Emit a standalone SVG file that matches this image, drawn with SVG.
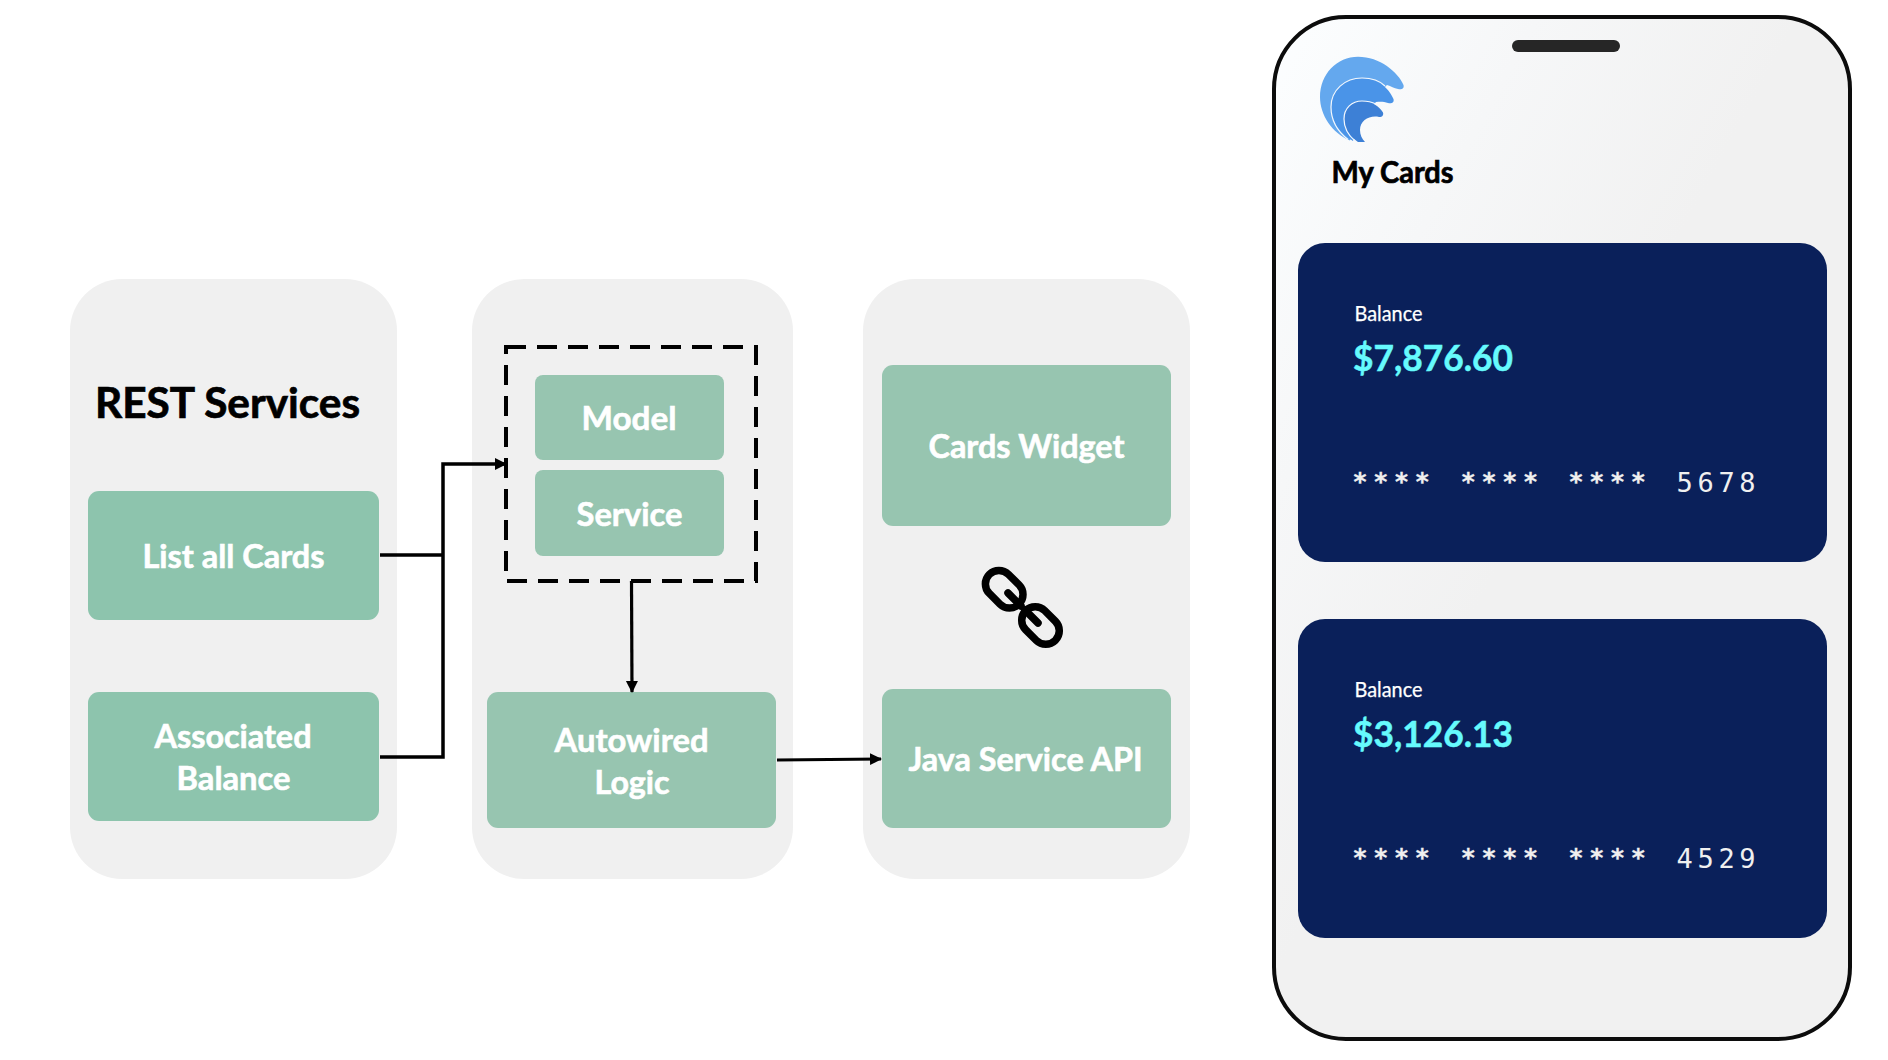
<svg xmlns="http://www.w3.org/2000/svg" width="1888" height="1060" viewBox="0 0 1888 1060">
<style>
text{font-family:Lato,"Open Sans","Liberation Sans",sans-serif}
.panel{fill:#f0f0f0}
.g1{fill:#8dc4ad}
.g2{fill:#97c5b0}
.t{font-weight:700;font-size:33px;fill:#fff;stroke:#fff;stroke-width:.6}
.h{font-weight:700;fill:#000;stroke:#000;stroke-width:.7}
.card{fill:#0a205a}
.bal{font-size:20.500px;fill:#fff;stroke:#fff;stroke-width:.25}
.amt{font-weight:700;font-size:37px;fill:#66fafd;stroke:#66fafd;stroke-width:.5}
.star{font-family:"DejaVu Sans Mono",monospace;font-size:25px;font-weight:700;letter-spacing:5.700px;fill:#f0f0f0;stroke:#f0f0f0;stroke-width:.3}
.num{font-family:"DejaVu Sans Mono",monospace;font-size:27px;letter-spacing:4.700px;fill:#f0f0f0}
.wire{fill:none;stroke:#000;stroke-width:3.500}
.wire2{fill:none;stroke:#000;stroke-width:3.200}
.arc{fill:none;stroke:#f4f8fd;stroke-width:1.200}
</style>
<defs>
<linearGradient id="phoneFill" gradientUnits="userSpaceOnUse" x1="1275" y1="17" x2="1679" y2="238">
<stop offset="0" stop-color="#fcfeff"/><stop offset="0.5" stop-color="#f6f7f8"/><stop offset="1" stop-color="#f1f1f1"/>
</linearGradient>
<marker id="arr" markerUnits="userSpaceOnUse" markerWidth="13" markerHeight="13" refX="11" refY="6.500" orient="auto"><path d="M0 .5L12 6.500L0 12.500Z" fill="#000"/></marker>
</defs>
<g id="panel-rest"><rect class="panel" x="70" y="279" width="327" height="600" rx="52"/>
<text class="h" x="95" y="418" font-size="42" textLength="265" lengthAdjust="spacingAndGlyphs">REST Services</text></g>
<g id="panel-middle"><rect class="panel" x="472" y="279" width="321" height="600" rx="52"/></g>
<g id="panel-right"><rect class="panel" x="863" y="279" width="327" height="600" rx="52"/></g>
<g id="list-all-cards"><rect class="g1" x="88" y="491" width="291" height="129" rx="11"/>
<text class="t" x="142.500" y="568" textLength="182" lengthAdjust="spacingAndGlyphs">List all Cards</text></g>
<g id="associated-balance"><rect class="g1" x="88" y="692" width="291" height="129" rx="11"/>
<text class="t" x="154.500" y="748" textLength="157" lengthAdjust="spacingAndGlyphs">Associated</text>
<text class="t" x="176.500" y="790" textLength="114" lengthAdjust="spacingAndGlyphs">Balance</text></g>
<g id="model-service-group"><rect x="506" y="347" width="250" height="234" fill="none" stroke="#000" stroke-width="4" stroke-dasharray="20 11"/></g>
<g id="model"><rect class="g2" x="535" y="375" width="189" height="85" rx="8"/>
<text class="t" x="581.500" y="430" textLength="95" lengthAdjust="spacingAndGlyphs">Model</text></g>
<g id="service"><rect class="g2" x="535" y="470" width="189" height="86" rx="8"/>
<text class="t" x="576.500" y="526" textLength="106" lengthAdjust="spacingAndGlyphs">Service</text></g>
<g id="autowired-logic"><rect class="g2" x="487" y="692" width="289" height="136" rx="11"/>
<text class="t" x="554.500" y="752" textLength="154" lengthAdjust="spacingAndGlyphs">Autowired</text>
<text class="t" x="594.500" y="794" textLength="75" lengthAdjust="spacingAndGlyphs">Logic</text></g>
<g id="cards-widget"><rect class="g2" x="882" y="365" width="289" height="161" rx="11"/>
<text class="t" x="928.500" y="458" textLength="196" lengthAdjust="spacingAndGlyphs">Cards Widget</text></g>
<g id="java-service-api"><rect class="g2" x="882" y="689" width="289" height="139" rx="11"/>
<text class="t" x="908.500" y="771" textLength="234" lengthAdjust="spacingAndGlyphs">Java Service API</text></g>
<g id="link-icon" fill="none" stroke="#000" stroke-width="7.500" stroke-linecap="round">
<rect x="983.200" y="575.700" width="42" height="27" rx="13.500" transform="rotate(45 1004.200 589.200)"/>
<rect x="1019.500" y="612" width="42" height="27" rx="13.500" transform="rotate(45 1040.500 625.500)"/>
<path d="M1008 593L1021 606M1038 623L1025 610"/></g>
<g id="connectors">
<path class="wire" d="M380 555H443"/>
<path class="wire" d="M380 757H443V464H506" marker-end="url(#arr)"/>
<path class="wire2" d="M631.500 581L632 692" marker-end="url(#arr)"/>
<path class="wire2" d="M777 760L881 759" marker-end="url(#arr)"/>
</g>
<g id="phone"><rect x="1274" y="17" width="576" height="1022" rx="72" fill="url(#phoneFill)" stroke="#0c0c0c" stroke-width="4"/>
<rect x="1512" y="40" width="108" height="12" rx="6" fill="#262626"/></g>
<g id="logo">
<path fill="#64a8ee" d="M1350 140.500C1332 133 1320 115 1320 97C1320 74 1337 56.700 1358 56.700C1380 56.700 1398 72 1403.500 85C1404.500 89 1401 90 1398 89C1394 88 1391 86.500 1387 85L1360 110Z"/>
<path fill="#4a94e8" d="M1353 141C1339 133 1331 120 1331 107C1331 90 1345 78 1362 78C1377 78 1389 88 1393.500 99C1394.500 103 1391 104 1388 103C1384 101.500 1380 101.500 1376 102L1360 120Z"/>
<path fill="#3d80d6" d="M1358 142C1350 136 1344 128 1344 119C1344 108 1352 101 1362 101C1372 101 1380 107 1383 112.500C1384 116 1381 117.500 1379 117C1370 115 1360 120 1360 130C1360 135 1362 139 1365 142Z"/>
<path class="arc" d="M1348 139.500C1337 131 1331 120 1331 107C1331 90 1345 78 1362 78C1372 78 1380 81 1385 86"/>
<path class="arc" d="M1355 141C1348 135 1344 128 1344 119C1344 108 1352 101 1362 101C1368 101 1372 102 1376 104"/>
</g>
<g id="my-cards"><text class="h" x="1331.500" y="183" font-size="29.500" textLength="122" lengthAdjust="spacingAndGlyphs">My Cards</text></g>
<g id="card-1"><rect class="card" x="1298" y="243" width="529" height="319" rx="27"/>
<text class="bal" x="1354.500" y="321" textLength="68" lengthAdjust="spacingAndGlyphs">Balance</text>
<text class="amt" x="1353" y="370.500" textLength="160" lengthAdjust="spacingAndGlyphs">$7,876.60</text>
<text class="star" x="1352.500" y="489.500">****</text>
<text class="star" x="1460.700" y="489.500">****</text>
<text class="star" x="1568.500" y="489.500">****</text>
<text class="num" x="1676.500" y="492">5678</text></g>
<g id="card-2"><rect class="card" x="1298" y="619" width="529" height="319" rx="27"/>
<text class="bal" x="1354.500" y="697" textLength="68" lengthAdjust="spacingAndGlyphs">Balance</text>
<text class="amt" x="1353" y="746.500" textLength="160" lengthAdjust="spacingAndGlyphs">$3,126.13</text>
<text class="star" x="1352.500" y="865.500">****</text>
<text class="star" x="1460.700" y="865.500">****</text>
<text class="star" x="1568.500" y="865.500">****</text>
<text class="num" x="1676.500" y="868">4529</text></g>
</svg>
